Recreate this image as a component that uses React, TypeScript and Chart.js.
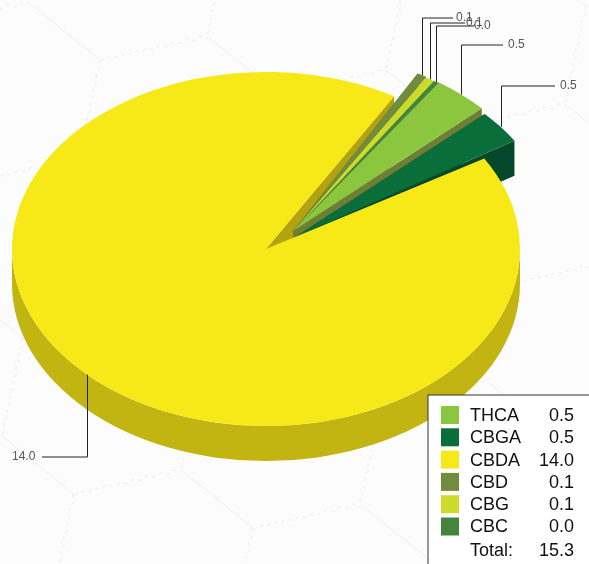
import React, { useEffect, useRef } from "react";
import { Chart, registerables } from "chart.js";

Chart.register(...registerables);

const categories = ["THCA", "CBGA", "CBDA", "CBD", "CBG", "CBC"];
const seriesValues = [0.54, 0.46, 14.07, 0.09, 0.09, 0.05];
const valueLabels = ["0.5", "0.5", "14.0", "0.1", "0.1", "0.0"];
const totalLabel = "15.3";
const faceColors = ["#8cc63f", "#0a6e3a", "#f7e917", "#728c3f", "#cbdb2a", "#43853f"];
const wallColors = ["#6e7f35", "#04472a", "#c2b411", "#5a6e30", "#a0ad20", "#2f5f2d"];

const SQUASH = 0.697;
const DEPTH = 35;
const CY = 249;
const ROTATION = 35.7;
const PULL_TURN = 0.024;
const PULL_GROW = 4;
const pulls = [[27, -26], [30, -18], [0, 0], [27, -26], [27, -25], [27, -25]];
const leaderBend = [[45, 503, 508], [86, 555, 560], [457, 42, 12], [18, 453, 456], [23, 465, 466], [26, 474, 474]];
const wallOrder = [2, 3, 4, 5, 0, 1];

function wiggle(ctx: any, x0: number, y0: number, dx: number, dy: number) {
  const len = Math.hypot(dx, dy);
  const steps = Math.round(len / 7);
  const nx = -dy / len;
  const ny = dx / len;
  ctx.beginPath();
  for (let s = 0; s <= steps; s++) {
    const t = s / steps;
    const w = s % 2 === 0 ? 1.6 : -1.6;
    const px = x0 + dx * t + nx * w;
    const py = y0 + dy * t + ny * w;
    if (s === 0) ctx.moveTo(px, py);
    else ctx.lineTo(px, py);
  }
  ctx.stroke();
}

function drawBackdrop(ctx: any, width: number, height: number) {
  ctx.save();
  ctx.fillStyle = "#fcfcfd";
  ctx.fillRect(0, 0, width, height);
  const h = [107, -24];
  const v = [-21, 98];
  const s = [-72, -58];
  const U = [179, 34];
  const W = [51, 156];
  for (let i = -4; i <= 5; i++) {
    for (let j = -2; j <= 5; j++) {
      const ax = 100 + i * U[0] + j * W[0];
      const ay = 60 + i * U[1] + j * W[1];
      ctx.lineWidth = 1.5;
      ctx.strokeStyle = "#f4f5f9";
      ctx.beginPath();
      ctx.moveTo(ax, ay);
      ctx.lineTo(ax + s[0], ay + s[1]);
      ctx.stroke();
      ctx.lineWidth = 1.5;
      ctx.setLineDash([4, 4]);
      ctx.strokeStyle = "#f0f2f7";
      wiggle(ctx, ax, ay, h[0], h[1]);
      wiggle(ctx, ax, ay, v[0], v[1]);
      ctx.setLineDash([]);
    }
  }
  ctx.restore();
}

const pie3d = {
  id: "pie3d",
  afterDatasetsUpdate(chart: any) {
    const els = chart.getDatasetMeta(0).data;
    els.forEach((el: any, i: number) => {
      if (pulls[i][0] === 0) return;
      el.x += pulls[i][0];
      el.y += pulls[i][1];
      el.startAngle -= PULL_TURN;
      el.endAngle -= PULL_TURN;
      el.outerRadius += PULL_GROW;
    });
  },
  beforeDraw(chart: any) {
    drawBackdrop(chart.ctx, chart.width, chart.height);
  },
  beforeDatasetsDraw(chart: any) {
    const { ctx, chartArea } = chart;
    const midY = (chartArea.top + chartArea.bottom) / 2;
    const els = chart.getDatasetMeta(0).data;
    const sy = (y: number) => CY + (y - midY) * SQUASH;
    ctx.save();
    wallOrder.forEach((i) => {
      const el = els[i];
      const { x, y, outerRadius: r, startAngle: a, endAngle: b } = el;
      const cy = sy(y);
      const ry = r * SQUASH;
      // radial walls
      ctx.fillStyle = i === 2 ? "#b3a30f" : wallColors[i];
      [a, b].forEach((t) => {
        const ex = x + r * Math.cos(t);
        const ey = cy + ry * Math.sin(t);
        ctx.beginPath();
        ctx.moveTo(x, cy);
        ctx.lineTo(ex, ey);
        ctx.lineTo(ex, ey + DEPTH);
        ctx.lineTo(x, cy + DEPTH);
        ctx.closePath();
        ctx.fill();
      });
      // outer wall, front-facing part only
      ctx.fillStyle = wallColors[i];
      const n = Math.ceil((b - a) / (2 * Math.PI)) + 1;
      for (let k = -1; k < n; k++) {
        const lo = Math.max(a, k * 2 * Math.PI);
        const hi = Math.min(b, k * 2 * Math.PI + Math.PI);
        if (hi <= lo) continue;
        ctx.beginPath();
        ctx.ellipse(x, cy, r, ry, 0, lo, hi, false);
        ctx.ellipse(x, cy + DEPTH, r, ry, 0, hi, lo, true);
        ctx.closePath();
        ctx.fill();
      }
    });
    ctx.restore();
    ctx.save();
    ctx.translate(0, CY);
    ctx.scale(1, SQUASH);
    ctx.translate(0, -midY);
  },
  afterDatasetsDraw(chart: any) {
    const { ctx, chartArea } = chart;
    ctx.restore();
    const midY = (chartArea.top + chartArea.bottom) / 2;
    const els = chart.getDatasetMeta(0).data;
    ctx.save();
    ctx.font = "12px 'Liberation Sans', Arial, sans-serif";
    ctx.textBaseline = "middle";
    ctx.textAlign = "left";
    els.forEach((el: any, i: number) => {
      const mid = (el.startAngle + el.endAngle) / 2;
      const px = Math.round(el.x + el.outerRadius * Math.cos(mid)) + 0.5;
      const py = CY + (el.y - midY) * SQUASH + el.outerRadius * SQUASH * Math.sin(mid);
      const [bendY, endX, textX] = leaderBend[i];
      ctx.strokeStyle = "#222222";
      ctx.lineWidth = 1;
      ctx.beginPath();
      ctx.moveTo(px, py);
      ctx.lineTo(px, bendY);
      ctx.lineTo(endX, bendY);
      ctx.stroke();
      ctx.fillStyle = "#555555";
      ctx.fillText(valueLabels[i], textX, bendY);
    });
    // legend
    const lx = 428;
    const ly = 395;
    ctx.fillStyle = "#ffffff";
    ctx.fillRect(lx, ly, 200, 200);
    ctx.strokeStyle = "#333333";
    ctx.lineWidth = 1;
    ctx.strokeRect(lx, ly, 200, 200);
    ctx.font = "18px 'Liberation Sans', Arial, sans-serif";
    categories.forEach((name, i) => {
      const y = 415 + i * 22.3;
      ctx.fillStyle = faceColors[i];
      ctx.fillRect(441, y - 9, 18, 18);
      ctx.fillStyle = "#111111";
      ctx.textAlign = "left";
      ctx.fillText(name, 470, y + 1);
      ctx.textAlign = "right";
      ctx.fillText(valueLabels[i], 574, y + 1);
    });
    ctx.textAlign = "left";
    ctx.fillText("Total:", 470, 551);
    ctx.textAlign = "right";
    ctx.fillText(totalLabel, 574, 551);
    ctx.restore();
  },
};

export default function App() {
  const ref = useRef<HTMLCanvasElement>(null);
  useEffect(() => {
    document.body.style.margin = "0";
    const chart = new Chart(ref.current!, {
      type: "pie",
      data: {
        labels: categories,
        datasets: [
          {
            data: seriesValues,
            backgroundColor: faceColors,
            borderWidth: 0,
            clip: false,
          } as any,
        ],
      },
      options: {
        responsive: false,
        animation: false,
        rotation: ROTATION,
        layout: { padding: { left: 12, right: 69, top: 28, bottom: 28 } },
        plugins: { legend: { display: false }, tooltip: { enabled: false } },
      },
      plugins: [pie3d],
    });
    return () => chart.destroy();
  }, []);
  return <canvas ref={ref} width={589} height={564} style={{ display: "block" }} />;
}
